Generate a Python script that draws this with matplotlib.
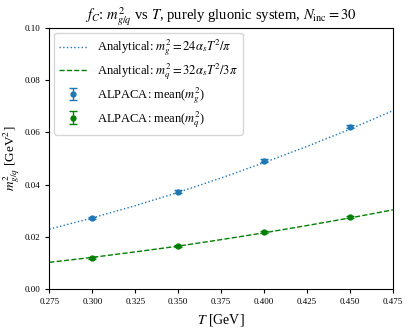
import numpy as np
import matplotlib
matplotlib.use('Agg')
import matplotlib.pyplot as plt

plt.rcParams['font.family'] = ['Liberation Serif', 'DejaVu Serif']
plt.rcParams['mathtext.fontset'] = 'stix'

# analytical curves
T_line = [0.275, 0.300, 0.325, 0.350, 0.375, 0.400, 0.425, 0.450, 0.475]
mg2_line = [0.0229, 0.0272, 0.0319, 0.0370, 0.0425, 0.0484, 0.0546, 0.0612, 0.0683]
mq2_line = [0.0102, 0.0121, 0.0142, 0.0164, 0.0189, 0.0215, 0.0243, 0.0272, 0.0303]

# ALPACA points
T_pts = [0.30, 0.35, 0.40, 0.45]
mg2_pts = [0.0272, 0.0373, 0.0492, 0.0622]
mg2_err = [0.0005, 0.0005, 0.0005, 0.0006]
mq2_pts = [0.0119, 0.0164, 0.0217, 0.0275]
mq2_err = [0.0003, 0.0003, 0.0004, 0.0004]

blue = '#1f77b4'
green = 'green'

fig, ax = plt.subplots(figsize=(4.11, 3.28), dpi=100)
fig.subplots_adjust(left=0.12, right=0.956, top=0.915, bottom=0.119)

ax.plot(T_line, mg2_line, ':', color=blue, lw=1.0,
        label=r'Analytical: $m_g^2 = 24\alpha_s T^2/\pi$')
ax.plot(T_line, mq2_line, '--', color=green, lw=1.0,
        label=r'Analytical: $m_q^2 = 32\alpha_s T^2/3\pi$')
ax.errorbar(T_pts, mg2_pts, yerr=mg2_err, fmt='o', color=blue, ms=3.5,
            capsize=3, elinewidth=1, label=r'ALPACA: mean($m_g^2$)')
ax.errorbar(T_pts, mq2_pts, yerr=mq2_err, fmt='o', color=green, ms=3.5,
            capsize=3, elinewidth=1, label=r'ALPACA: mean($m_q^2$)')

ax.set_xlim(0.275, 0.475)
ax.set_ylim(0.0, 0.1)
xt = np.arange(0.275, 0.4751, 0.025)
ax.set_xticks(xt)
ax.set_xticklabels(['%.3f' % t for t in xt])
ax.set_yticks([0.0, 0.02, 0.04, 0.06, 0.08, 0.10])
ax.set_yticklabels(['0.00', '0.02', '0.04', '0.06', '0.08', '0.10'])
ax.tick_params(labelsize=6.5, length=3)

ax.set_xlabel(r'$T$ [GeV]', fontsize=10)
ax.set_ylabel(r'$m_{g/q}^2$ [GeV$^2$]', fontsize=9.5, labelpad=2)
ax.set_title(r'$f_C$: $m_{g/q}^2$ vs $T$, purely gluonic system, $N_{\mathrm{inc}} = 30$',
             fontsize=10.5)
ax.legend(loc='upper left', fontsize=9, labelspacing=0.25, handlelength=2.2,
          borderaxespad=0.4)

plt.savefig('out.png', dpi=100)
